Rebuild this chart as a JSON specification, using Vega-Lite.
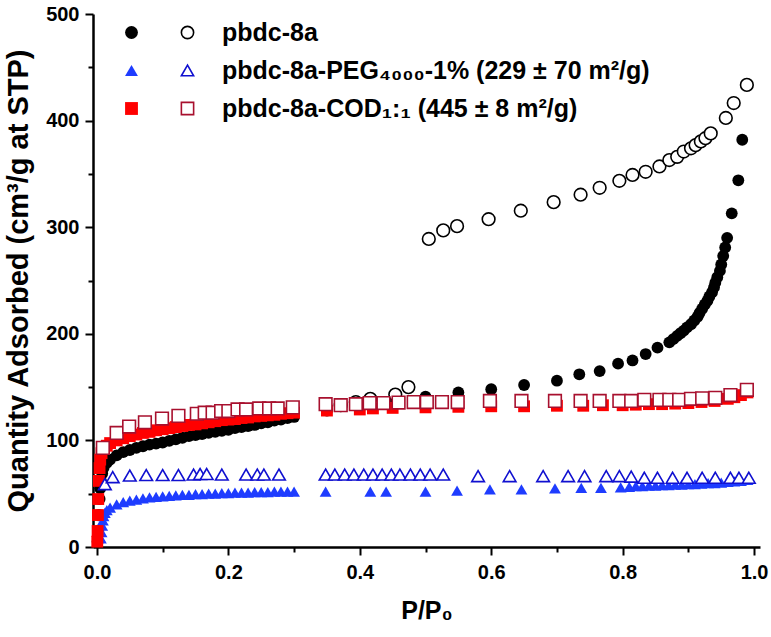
{
  "$schema": "https://vega.github.io/schema/vega-lite/v6.json",
  "width": 667,
  "height": 533,
  "autosize": {"type": "none"},
  "padding": {"left": 93, "top": 14, "right": 11, "bottom": 90},
  "background": "white",
  "config": {
    "font": "Liberation Sans",
    "view": {"stroke": null},
    "axis": {
      "domainColor": "#000000", "domainWidth": 2.5, "tickColor": "#000000", "tickWidth": 2,
      "labelFont": "Liberation Sans", "labelFontWeight": "bold", "labelFontSize": 20, "labelColor": "#000000",
      "titleFont": "Liberation Sans", "titleFontWeight": "bold", "titleColor": "#000000",
      "grid": false, "labelOverlap": false
    },
    "legend": {"padding": 0}
  },
  "data": {"values": [
    {"s":"pbdc-8a","b":"ads","p":0.001,"q":5},{"s":"pbdc-8a","b":"ads","p":0.002,"q":15},{"s":"pbdc-8a","b":"ads","p":0.003,"q":30},{"s":"pbdc-8a","b":"ads","p":0.004,"q":45},{"s":"pbdc-8a","b":"ads","p":0.005,"q":55},{"s":"pbdc-8a","b":"ads","p":0.006,"q":62},{"s":"pbdc-8a","b":"ads","p":0.008,"q":69},{"s":"pbdc-8a","b":"ads","p":0.01,"q":74},{"s":"pbdc-8a","b":"ads","p":0.015,"q":79},{"s":"pbdc-8a","b":"ads","p":0.02,"q":82},{"s":"pbdc-8a","b":"ads","p":0.03,"q":86},{"s":"pbdc-8a","b":"ads","p":0.04,"q":89},{"s":"pbdc-8a","b":"ads","p":0.05,"q":91},{"s":"pbdc-8a","b":"ads","p":0.06,"q":93},{"s":"pbdc-8a","b":"ads","p":0.07,"q":94.5},{"s":"pbdc-8a","b":"ads","p":0.08,"q":96},{"s":"pbdc-8a","b":"ads","p":0.09,"q":97},{"s":"pbdc-8a","b":"ads","p":0.1,"q":98},{"s":"pbdc-8a","b":"ads","p":0.11,"q":99.5},{"s":"pbdc-8a","b":"ads","p":0.12,"q":101},{"s":"pbdc-8a","b":"ads","p":0.13,"q":102.5},{"s":"pbdc-8a","b":"ads","p":0.14,"q":104},{"s":"pbdc-8a","b":"ads","p":0.15,"q":105},{"s":"pbdc-8a","b":"ads","p":0.16,"q":106},{"s":"pbdc-8a","b":"ads","p":0.17,"q":107},{"s":"pbdc-8a","b":"ads","p":0.18,"q":108},{"s":"pbdc-8a","b":"ads","p":0.19,"q":109},{"s":"pbdc-8a","b":"ads","p":0.2,"q":110},{"s":"pbdc-8a","b":"ads","p":0.21,"q":111.5},{"s":"pbdc-8a","b":"ads","p":0.22,"q":112.5},{"s":"pbdc-8a","b":"ads","p":0.23,"q":113.5},{"s":"pbdc-8a","b":"ads","p":0.24,"q":114.5},{"s":"pbdc-8a","b":"ads","p":0.25,"q":116},{"s":"pbdc-8a","b":"ads","p":0.26,"q":117},{"s":"pbdc-8a","b":"ads","p":0.27,"q":118.5},{"s":"pbdc-8a","b":"ads","p":0.28,"q":119.5},{"s":"pbdc-8a","b":"ads","p":0.29,"q":121},{"s":"pbdc-8a","b":"ads","p":0.3,"q":122},
    {"s":"pbdc-8a","b":"ads","p":0.35,"q":128},{"s":"pbdc-8a","b":"ads","p":0.4,"q":132},{"s":"pbdc-8a","b":"ads","p":0.45,"q":135},{"s":"pbdc-8a","b":"ads","p":0.5,"q":141},{"s":"pbdc-8a","b":"ads","p":0.55,"q":145},{"s":"pbdc-8a","b":"ads","p":0.6,"q":148},{"s":"pbdc-8a","b":"ads","p":0.65,"q":152},{"s":"pbdc-8a","b":"ads","p":0.7,"q":156},{"s":"pbdc-8a","b":"ads","p":0.734,"q":162},{"s":"pbdc-8a","b":"ads","p":0.765,"q":165},{"s":"pbdc-8a","b":"ads","p":0.793,"q":172},{"s":"pbdc-8a","b":"ads","p":0.815,"q":175},{"s":"pbdc-8a","b":"ads","p":0.835,"q":181},{"s":"pbdc-8a","b":"ads","p":0.853,"q":187},{"s":"pbdc-8a","b":"ads","p":0.871,"q":192},{"s":"pbdc-8a","b":"ads","p":0.877,"q":195},{"s":"pbdc-8a","b":"ads","p":0.883,"q":198},{"s":"pbdc-8a","b":"ads","p":0.888,"q":200.5},{"s":"pbdc-8a","b":"ads","p":0.893,"q":203},{"s":"pbdc-8a","b":"ads","p":0.898,"q":206},{"s":"pbdc-8a","b":"ads","p":0.904,"q":209},{"s":"pbdc-8a","b":"ads","p":0.909,"q":212.5},{"s":"pbdc-8a","b":"ads","p":0.914,"q":216},{"s":"pbdc-8a","b":"ads","p":0.917,"q":219.5},{"s":"pbdc-8a","b":"ads","p":0.921,"q":223.5},{"s":"pbdc-8a","b":"ads","p":0.925,"q":227.5},{"s":"pbdc-8a","b":"ads","p":0.929,"q":231},{"s":"pbdc-8a","b":"ads","p":0.932,"q":235},{"s":"pbdc-8a","b":"ads","p":0.936,"q":239},{"s":"pbdc-8a","b":"ads","p":0.939,"q":243.5},{"s":"pbdc-8a","b":"ads","p":0.941,"q":248},{"s":"pbdc-8a","b":"ads","p":0.944,"q":253},{"s":"pbdc-8a","b":"ads","p":0.948,"q":259},{"s":"pbdc-8a","b":"ads","p":0.95,"q":265},{"s":"pbdc-8a","b":"ads","p":0.953,"q":273},{"s":"pbdc-8a","b":"ads","p":0.956,"q":281},{"s":"pbdc-8a","b":"ads","p":0.959,"q":290},{"s":"pbdc-8a","b":"ads","p":0.966,"q":313},{"s":"pbdc-8a","b":"ads","p":0.976,"q":344},{"s":"pbdc-8a","b":"ads","p":0.982,"q":382},
    {"s":"PEG","b":"ads","p":0.006,"q":8},{"s":"PEG","b":"ads","p":0.007,"q":14},{"s":"PEG","b":"ads","p":0.008,"q":20},{"s":"PEG","b":"ads","p":0.009,"q":25},{"s":"PEG","b":"ads","p":0.01,"q":29},{"s":"PEG","b":"ads","p":0.012,"q":32},{"s":"PEG","b":"ads","p":0.015,"q":34.5},{"s":"PEG","b":"ads","p":0.02,"q":37},{"s":"PEG","b":"ads","p":0.03,"q":40},{"s":"PEG","b":"ads","p":0.04,"q":42},{"s":"PEG","b":"ads","p":0.05,"q":43.5},{"s":"PEG","b":"ads","p":0.06,"q":44.5},{"s":"PEG","b":"ads","p":0.07,"q":45.5},{"s":"PEG","b":"ads","p":0.08,"q":46.5},{"s":"PEG","b":"ads","p":0.09,"q":47},{"s":"PEG","b":"ads","p":0.1,"q":47.5},{"s":"PEG","b":"ads","p":0.11,"q":48},{"s":"PEG","b":"ads","p":0.12,"q":48.5},{"s":"PEG","b":"ads","p":0.13,"q":49},{"s":"PEG","b":"ads","p":0.14,"q":49},{"s":"PEG","b":"ads","p":0.15,"q":49.5},{"s":"PEG","b":"ads","p":0.16,"q":49.5},{"s":"PEG","b":"ads","p":0.17,"q":50},{"s":"PEG","b":"ads","p":0.18,"q":50},{"s":"PEG","b":"ads","p":0.19,"q":50.5},{"s":"PEG","b":"ads","p":0.2,"q":50.5},{"s":"PEG","b":"ads","p":0.21,"q":51},{"s":"PEG","b":"ads","p":0.22,"q":51},{"s":"PEG","b":"ads","p":0.23,"q":51},{"s":"PEG","b":"ads","p":0.24,"q":51.5},{"s":"PEG","b":"ads","p":0.25,"q":51.5},{"s":"PEG","b":"ads","p":0.26,"q":51.5},{"s":"PEG","b":"ads","p":0.27,"q":52},{"s":"PEG","b":"ads","p":0.28,"q":52},{"s":"PEG","b":"ads","p":0.29,"q":52},{"s":"PEG","b":"ads","p":0.3,"q":52},
    {"s":"PEG","b":"ads","p":0.348,"q":52},{"s":"PEG","b":"ads","p":0.416,"q":52},{"s":"PEG","b":"ads","p":0.44,"q":52},{"s":"PEG","b":"ads","p":0.5,"q":52},{"s":"PEG","b":"ads","p":0.548,"q":53},{"s":"PEG","b":"ads","p":0.598,"q":54},{"s":"PEG","b":"ads","p":0.646,"q":54},{"s":"PEG","b":"ads","p":0.697,"q":55},{"s":"PEG","b":"ads","p":0.737,"q":55.5},{"s":"PEG","b":"ads","p":0.767,"q":55.5},{"s":"PEG","b":"ads","p":0.797,"q":56},{"s":"PEG","b":"ads","p":0.81,"q":56.5},{"s":"PEG","b":"ads","p":0.82,"q":57},{"s":"PEG","b":"ads","p":0.83,"q":57},{"s":"PEG","b":"ads","p":0.84,"q":57.5},{"s":"PEG","b":"ads","p":0.85,"q":57.5},{"s":"PEG","b":"ads","p":0.86,"q":58},{"s":"PEG","b":"ads","p":0.87,"q":58},{"s":"PEG","b":"ads","p":0.88,"q":58.5},{"s":"PEG","b":"ads","p":0.89,"q":58.5},{"s":"PEG","b":"ads","p":0.9,"q":59},{"s":"PEG","b":"ads","p":0.91,"q":59},{"s":"PEG","b":"ads","p":0.92,"q":59.5},{"s":"PEG","b":"ads","p":0.93,"q":60},{"s":"PEG","b":"ads","p":0.94,"q":60},{"s":"PEG","b":"ads","p":0.95,"q":60.5},{"s":"PEG","b":"ads","p":0.96,"q":61},{"s":"PEG","b":"ads","p":0.97,"q":61.5},{"s":"PEG","b":"ads","p":0.98,"q":62},{"s":"PEG","b":"ads","p":0.99,"q":63},
    {"s":"COD","b":"ads","p":0.0005,"q":5},{"s":"COD","b":"ads","p":0.001,"q":15},{"s":"COD","b":"ads","p":0.0015,"q":30},{"s":"COD","b":"ads","p":0.002,"q":45},{"s":"COD","b":"ads","p":0.003,"q":62},{"s":"COD","b":"ads","p":0.004,"q":74},{"s":"COD","b":"ads","p":0.005,"q":82},{"s":"COD","b":"ads","p":0.007,"q":88},{"s":"COD","b":"ads","p":0.01,"q":92},{"s":"COD","b":"ads","p":0.015,"q":95},{"s":"COD","b":"ads","p":0.02,"q":97.5},{"s":"COD","b":"ads","p":0.03,"q":100},{"s":"COD","b":"ads","p":0.04,"q":102},{"s":"COD","b":"ads","p":0.05,"q":104},{"s":"COD","b":"ads","p":0.06,"q":105.5},{"s":"COD","b":"ads","p":0.07,"q":107},{"s":"COD","b":"ads","p":0.08,"q":108},{"s":"COD","b":"ads","p":0.09,"q":109.5},{"s":"COD","b":"ads","p":0.1,"q":110.5},{"s":"COD","b":"ads","p":0.11,"q":111.5},{"s":"COD","b":"ads","p":0.12,"q":112.5},{"s":"COD","b":"ads","p":0.13,"q":113.5},{"s":"COD","b":"ads","p":0.14,"q":114.5},{"s":"COD","b":"ads","p":0.15,"q":115},{"s":"COD","b":"ads","p":0.16,"q":116},{"s":"COD","b":"ads","p":0.17,"q":117},{"s":"COD","b":"ads","p":0.18,"q":118},{"s":"COD","b":"ads","p":0.19,"q":119},{"s":"COD","b":"ads","p":0.2,"q":119.5},{"s":"COD","b":"ads","p":0.21,"q":120},{"s":"COD","b":"ads","p":0.22,"q":121},{"s":"COD","b":"ads","p":0.23,"q":121.5},{"s":"COD","b":"ads","p":0.24,"q":122.5},{"s":"COD","b":"ads","p":0.25,"q":123},{"s":"COD","b":"ads","p":0.26,"q":123.5},{"s":"COD","b":"ads","p":0.27,"q":124},{"s":"COD","b":"ads","p":0.28,"q":125},{"s":"COD","b":"ads","p":0.29,"q":125.5},{"s":"COD","b":"ads","p":0.3,"q":126},
    {"s":"COD","b":"ads","p":0.35,"q":128},{"s":"COD","b":"ads","p":0.4,"q":129},{"s":"COD","b":"ads","p":0.42,"q":130},{"s":"COD","b":"ads","p":0.45,"q":130.5},{"s":"COD","b":"ads","p":0.5,"q":131},{"s":"COD","b":"ads","p":0.55,"q":131.5},{"s":"COD","b":"ads","p":0.6,"q":132},{"s":"COD","b":"ads","p":0.65,"q":132},{"s":"COD","b":"ads","p":0.7,"q":132.5},{"s":"COD","b":"ads","p":0.74,"q":132.5},{"s":"COD","b":"ads","p":0.77,"q":133},{"s":"COD","b":"ads","p":0.8,"q":133},{"s":"COD","b":"ads","p":0.82,"q":133.5},{"s":"COD","b":"ads","p":0.84,"q":134},{"s":"COD","b":"ads","p":0.86,"q":134},{"s":"COD","b":"ads","p":0.88,"q":134.5},{"s":"COD","b":"ads","p":0.9,"q":135},{"s":"COD","b":"ads","p":0.92,"q":136},{"s":"COD","b":"ads","p":0.94,"q":137},{"s":"COD","b":"ads","p":0.96,"q":139},{"s":"COD","b":"ads","p":0.97,"q":140.5},{"s":"COD","b":"ads","p":0.98,"q":142.5},{"s":"COD","b":"ads","p":0.99,"q":145},
    {"s":"pbdc-8a","b":"des","p":0.371,"q":133},{"s":"pbdc-8a","b":"des","p":0.394,"q":136},{"s":"pbdc-8a","b":"des","p":0.416,"q":139},{"s":"pbdc-8a","b":"des","p":0.454,"q":143},{"s":"pbdc-8a","b":"des","p":0.474,"q":150},{"s":"pbdc-8a","b":"des","p":0.505,"q":289},{"s":"pbdc-8a","b":"des","p":0.527,"q":297},{"s":"pbdc-8a","b":"des","p":0.548,"q":301},{"s":"pbdc-8a","b":"des","p":0.596,"q":307.5},{"s":"pbdc-8a","b":"des","p":0.645,"q":315.5},{"s":"pbdc-8a","b":"des","p":0.695,"q":323.5},{"s":"pbdc-8a","b":"des","p":0.736,"q":330.5},{"s":"pbdc-8a","b":"des","p":0.765,"q":337},{"s":"pbdc-8a","b":"des","p":0.795,"q":343.5},{"s":"pbdc-8a","b":"des","p":0.815,"q":349},{"s":"pbdc-8a","b":"des","p":0.835,"q":352},{"s":"pbdc-8a","b":"des","p":0.856,"q":357},{"s":"pbdc-8a","b":"des","p":0.871,"q":363},{"s":"pbdc-8a","b":"des","p":0.883,"q":366},{"s":"pbdc-8a","b":"des","p":0.893,"q":371},{"s":"pbdc-8a","b":"des","p":0.904,"q":374},{"s":"pbdc-8a","b":"des","p":0.911,"q":377},{"s":"pbdc-8a","b":"des","p":0.919,"q":380.5},{"s":"pbdc-8a","b":"des","p":0.926,"q":383.5},{"s":"pbdc-8a","b":"des","p":0.934,"q":388},{"s":"pbdc-8a","b":"des","p":0.957,"q":402.5},{"s":"pbdc-8a","b":"des","p":0.969,"q":416.5},{"s":"pbdc-8a","b":"des","p":0.989,"q":433.5},
    {"s":"PEG","b":"des","p":0.012,"q":59},{"s":"PEG","b":"des","p":0.024,"q":65.5},{"s":"PEG","b":"des","p":0.05,"q":67},{"s":"PEG","b":"des","p":0.075,"q":67.5},{"s":"PEG","b":"des","p":0.1,"q":67.5},{"s":"PEG","b":"des","p":0.124,"q":67.5},{"s":"PEG","b":"des","p":0.147,"q":68},{"s":"PEG","b":"des","p":0.157,"q":68.5},{"s":"PEG","b":"des","p":0.167,"q":68.5},{"s":"PEG","b":"des","p":0.19,"q":68},{"s":"PEG","b":"des","p":0.227,"q":68},{"s":"PEG","b":"des","p":0.244,"q":68},{"s":"PEG","b":"des","p":0.254,"q":68},{"s":"PEG","b":"des","p":0.277,"q":68},{"s":"PEG","b":"des","p":0.348,"q":68},{"s":"PEG","b":"des","p":0.362,"q":68},{"s":"PEG","b":"des","p":0.377,"q":68},{"s":"PEG","b":"des","p":0.391,"q":68},{"s":"PEG","b":"des","p":0.406,"q":68},{"s":"PEG","b":"des","p":0.42,"q":68},{"s":"PEG","b":"des","p":0.434,"q":68},{"s":"PEG","b":"des","p":0.448,"q":68},{"s":"PEG","b":"des","p":0.461,"q":68},{"s":"PEG","b":"des","p":0.477,"q":68},{"s":"PEG","b":"des","p":0.492,"q":68},{"s":"PEG","b":"des","p":0.507,"q":68},{"s":"PEG","b":"des","p":0.527,"q":68},{"s":"PEG","b":"des","p":0.58,"q":66.5},{"s":"PEG","b":"des","p":0.628,"q":66.5},{"s":"PEG","b":"des","p":0.679,"q":66.5},{"s":"PEG","b":"des","p":0.717,"q":66.5},{"s":"PEG","b":"des","p":0.742,"q":66.5},{"s":"PEG","b":"des","p":0.775,"q":66.5},{"s":"PEG","b":"des","p":0.795,"q":66.5},{"s":"PEG","b":"des","p":0.813,"q":66},{"s":"PEG","b":"des","p":0.833,"q":65},{"s":"PEG","b":"des","p":0.853,"q":65},{"s":"PEG","b":"des","p":0.876,"q":65},{"s":"PEG","b":"des","p":0.898,"q":65},{"s":"PEG","b":"des","p":0.921,"q":65},{"s":"PEG","b":"des","p":0.941,"q":65},{"s":"PEG","b":"des","p":0.964,"q":65},{"s":"PEG","b":"des","p":0.977,"q":65},{"s":"PEG","b":"des","p":0.992,"q":65},
    {"s":"COD","b":"des","p":0.009,"q":93},{"s":"COD","b":"des","p":0.03,"q":107},{"s":"COD","b":"des","p":0.049,"q":113},{"s":"COD","b":"des","p":0.073,"q":117},{"s":"COD","b":"des","p":0.099,"q":120.5},{"s":"COD","b":"des","p":0.124,"q":123},{"s":"COD","b":"des","p":0.152,"q":125},{"s":"COD","b":"des","p":0.164,"q":126},{"s":"COD","b":"des","p":0.176,"q":126},{"s":"COD","b":"des","p":0.189,"q":127.5},{"s":"COD","b":"des","p":0.2,"q":127.5},{"s":"COD","b":"des","p":0.214,"q":129},{"s":"COD","b":"des","p":0.227,"q":129},{"s":"COD","b":"des","p":0.247,"q":130},{"s":"COD","b":"des","p":0.262,"q":130},{"s":"COD","b":"des","p":0.275,"q":130},{"s":"COD","b":"des","p":0.298,"q":131},{"s":"COD","b":"des","p":0.348,"q":134},{"s":"COD","b":"des","p":0.371,"q":133},{"s":"COD","b":"des","p":0.394,"q":134},{"s":"COD","b":"des","p":0.415,"q":135},{"s":"COD","b":"des","p":0.436,"q":135},{"s":"COD","b":"des","p":0.459,"q":135.5},{"s":"COD","b":"des","p":0.482,"q":136},{"s":"COD","b":"des","p":0.502,"q":136},{"s":"COD","b":"des","p":0.525,"q":136},{"s":"COD","b":"des","p":0.549,"q":136},{"s":"COD","b":"des","p":0.598,"q":137},{"s":"COD","b":"des","p":0.646,"q":137},{"s":"COD","b":"des","p":0.697,"q":137},{"s":"COD","b":"des","p":0.736,"q":137},{"s":"COD","b":"des","p":0.765,"q":137},{"s":"COD","b":"des","p":0.795,"q":137},{"s":"COD","b":"des","p":0.813,"q":137},{"s":"COD","b":"des","p":0.833,"q":138},{"s":"COD","b":"des","p":0.856,"q":138},{"s":"COD","b":"des","p":0.871,"q":138},{"s":"COD","b":"des","p":0.886,"q":138},{"s":"COD","b":"des","p":0.904,"q":139},{"s":"COD","b":"des","p":0.921,"q":139.5},{"s":"COD","b":"des","p":0.941,"q":140},{"s":"COD","b":"des","p":0.964,"q":142.5},{"s":"COD","b":"des","p":0.989,"q":147.5}
  ]},
  "encoding": {
    "x": {"field": "p", "type": "quantitative", "scale": {"domain": [-0.006, 1.009], "nice": false, "zero": false},
      "axis": {"title": "P/P₀", "titleFontSize": 25, "values": [0,0.1,0.2,0.3,0.4,0.5,0.6,0.7,0.8,0.9,1.0],
        "labelExpr": "abs(datum.value*5-round(datum.value*5))<0.001 ? format(datum.value,'.1f') : ''",
        "tickSize": {"condition": {"test": "abs(datum.value*5-round(datum.value*5))<0.001", "value": 8}, "value": 5},
        "labelPadding": 7, "titlePadding": 16}},
    "y": {"field": "q", "type": "quantitative", "scale": {"domain": [0, 500], "nice": false},
      "axis": {"title": "Quantity Adsorbed (cm³/g at STP)", "titleFontSize": 29, "values": [0,50,100,150,200,250,300,350,400,450,500],
        "labelExpr": "datum.value % 100 == 0 ? datum.label : ''",
        "tickSize": {"condition": {"test": "datum.value % 100 == 0", "value": 8}, "value": 5},
        "labelPadding": 6, "titlePadding": 12}}
  },
  "layer": [
    {
      "transform": [{"filter": "datum.b == 'ads'"}],
      "mark": {"type": "point", "filled": true, "size": 140, "opacity": 1},
      "encoding": {
        "color": {"field": "s", "type": "nominal",
          "scale": {"domain": ["pbdc-8a", "PEG", "COD"], "range": ["#000000", "#1e3cff", "#ff0000"]},
          "legend": {"orient": "none", "legendX": 31, "legendY": 11, "title": null, "symbolSize": 165, "labelFontSize": 1, "labelExpr": "''", "rowPadding": 24}},
        "shape": {"field": "s", "type": "nominal",
          "scale": {"domain": ["pbdc-8a", "PEG", "COD"], "range": ["circle", "triangle-up", "square"]},
          "legend": {"orient": "none", "legendX": 31, "legendY": 11, "title": null, "symbolSize": 165, "labelFontSize": 1, "labelExpr": "''", "rowPadding": 24}}
      }
    },
    {
      "transform": [{"filter": "datum.b == 'des'"}],
      "mark": {"type": "point", "filled": false, "fill": "white", "fillOpacity": 1, "size": 160, "strokeWidth": 1.6, "opacity": 1},
      "encoding": {
        "color": {"field": "s", "type": "nominal",
          "scale": {"domain": ["pbdc-8a", "PEG", "COD"], "range": ["#000000", "#1010d0", "#a8102e"]},
          "legend": {"orient": "none", "legendX": 82, "legendY": 6, "title": null, "symbolSize": 150, "symbolStrokeWidth": 1.6, "labelFontSize": 25, "labelFontWeight": "bold", "labelColor": "#000000", "labelFont": "Liberation Sans", "labelLimit": 700, "rowPadding": 12, "labelOffset": 22,
            "labelExpr": "datum.value == 'PEG' ? 'pbdc-8a-PEG₄₀₀₀-1% (229 ± 70 m²/g)' : datum.value == 'COD' ? 'pbdc-8a-COD₁:₁ (445 ± 8 m²/g)' : 'pbdc-8a'"}},
        "shape": {"field": "s", "type": "nominal",
          "scale": {"domain": ["pbdc-8a", "PEG", "COD"], "range": ["circle", "triangle-up", "square"]},
          "legend": {"orient": "none", "legendX": 82, "legendY": 6, "title": null, "symbolSize": 150, "symbolStrokeWidth": 1.6, "labelFontSize": 25, "labelFontWeight": "bold", "labelColor": "#000000", "labelFont": "Liberation Sans", "labelLimit": 700, "rowPadding": 12, "labelOffset": 22,
            "labelExpr": "datum.value == 'PEG' ? 'pbdc-8a-PEG₄₀₀₀-1% (229 ± 70 m²/g)' : datum.value == 'COD' ? 'pbdc-8a-COD₁:₁ (445 ± 8 m²/g)' : 'pbdc-8a'"}}
      }
    }
  ],
  "resolve": {"scale": {"color": "independent", "shape": "independent"}, "legend": {"color": "independent", "shape": "independent"}}
}
